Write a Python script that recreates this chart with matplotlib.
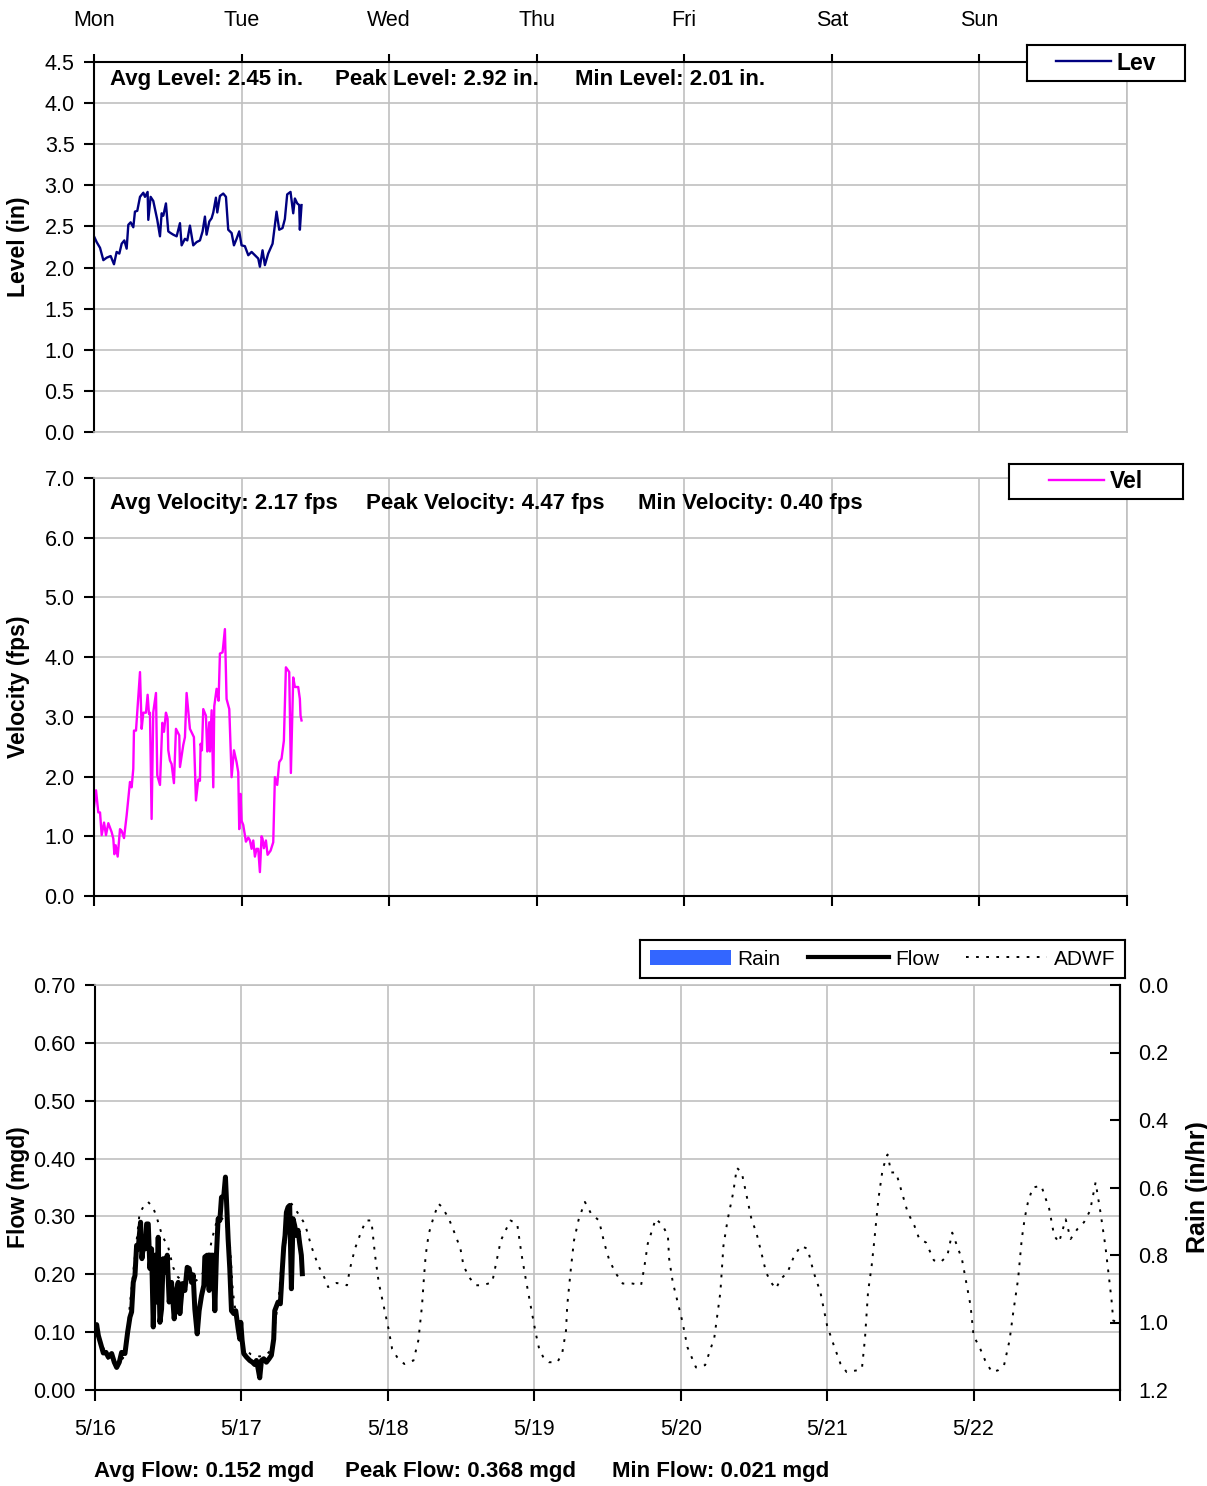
import matplotlib
matplotlib.use("Agg")
import matplotlib.pyplot as plt
from matplotlib.lines import Line2D
from matplotlib.patches import Patch
from matplotlib.ticker import FormatStrFormatter

plt.rcParams["font.family"] = ["Liberation Sans", "DejaVu Sans"]

# ---------------------------------------------------------------- data
day_names = ["Mon", "Tue", "Wed", "Thu", "Fri", "Sat", "Sun"]
date_labels = ["5/16", "5/17", "5/18", "5/19", "5/20", "5/21", "5/22"]

# hours since 5/16 00:00
level_hours = [0.00, 0.43, 0.98, 1.52, 2.06, 2.71, 3.25, 3.68, 4.12, 4.50, 4.93, 5.31,
               5.58, 5.96, 6.39, 6.66, 7.04, 7.48, 8.02, 8.29, 8.72, 8.83, 9.21, 9.64,
               10.29, 10.73, 11.00, 11.27, 11.70, 12.08, 12.46, 12.89, 13.44, 13.98, 14.25,
               14.79, 15.17, 15.60, 16.14, 16.69, 17.23, 17.66, 18.04, 18.31, 18.75, 19.13,
               19.40, 19.83, 20.05, 20.48, 21.02, 21.46, 21.83, 22.38, 22.76, 23.19, 23.62,
               24.00, 24.54, 25.09, 25.63, 26.17, 26.71, 26.98, 27.41, 27.79, 28.33, 29.04,
               29.69, 30.12, 30.66, 31.04, 31.42, 31.96, 32.40, 32.67, 33.05, 33.37, 33.48,
               33.75]
level_in = [2.38, 2.31, 2.24, 2.09, 2.12, 2.14, 2.04, 2.19, 2.17, 2.29, 2.33, 2.23,
            2.52, 2.55, 2.49, 2.68, 2.69, 2.86, 2.91, 2.86, 2.92, 2.58, 2.86, 2.81,
            2.58, 2.38, 2.66, 2.63, 2.78, 2.44, 2.42, 2.40, 2.38, 2.54, 2.27,
            2.35, 2.33, 2.51, 2.27, 2.31, 2.33, 2.44, 2.62, 2.40, 2.56, 2.60,
            2.67, 2.85, 2.67, 2.87, 2.90, 2.86, 2.46, 2.42, 2.27, 2.35, 2.44,
            2.27, 2.26, 2.15, 2.19, 2.15, 2.11, 2.01, 2.21, 2.03, 2.17, 2.29,
            2.68, 2.46, 2.48, 2.59, 2.89, 2.92, 2.66, 2.84, 2.78, 2.76, 2.46,
            2.76]

vel_hours = [0.00, 0.33, 0.70, 0.98, 1.25, 1.63, 1.95, 2.33, 2.87, 3.14, 3.31, 3.52,
             3.85, 4.23, 4.50, 4.88, 5.31, 5.85, 6.12, 6.39, 6.50, 6.83, 7.48, 7.75,
             8.02, 8.45, 8.72, 8.94, 9.10, 9.37, 9.64, 10.08, 10.29, 10.73, 11.11,
             11.38, 11.70, 11.97, 12.08, 12.35, 12.62, 13.00, 13.33, 13.87, 13.98,
             14.52, 14.79, 15.06, 15.60, 16.25, 16.58, 16.96, 17.23, 17.34, 17.55,
             17.77, 18.20, 18.42, 18.75, 18.85, 19.13, 19.40, 19.56, 19.94, 20.26,
             20.48, 20.91, 21.29, 21.56, 22.00, 22.38, 22.76, 23.19, 23.46, 23.62,
             23.84, 24.00, 24.27, 24.71, 25.09, 25.36, 25.63, 25.90, 26.17, 26.44,
             26.71, 26.98, 27.25, 27.41, 27.63, 27.96, 28.23, 28.72, 29.15, 29.42,
             29.80, 30.12, 30.50, 30.88, 31.21, 31.75, 32.02, 32.40, 32.67, 33.21,
             33.48, 33.59, 33.75]
vel_fps = [1.49, 1.77, 1.40, 1.40, 1.02, 1.23, 1.02, 1.22, 1.07, 0.96, 0.70, 0.85,
           0.66, 1.12, 1.09, 0.97, 1.35, 1.91, 1.82, 2.13, 2.77, 2.77, 3.75, 2.80,
           3.07, 3.07, 3.37, 3.05, 3.07, 1.29, 3.08, 3.40, 2.02, 1.86, 2.90,
           2.75, 3.07, 2.97, 2.44, 2.27, 2.21, 1.89, 2.80, 2.69, 2.16,
           2.53, 2.66, 3.40, 2.80, 2.66, 1.60, 1.95, 1.93, 2.55, 2.44,
           3.13, 3.02, 2.42, 2.91, 2.42, 3.11, 1.82, 3.18, 3.47, 3.27,
           4.06, 4.08, 4.47, 3.30, 3.13, 1.99, 2.44, 2.24, 2.07, 1.12,
           1.71, 1.26, 1.19, 0.91, 0.98, 0.93, 0.79, 0.93, 0.66, 0.79,
           0.79, 0.40, 1.00, 0.96, 0.80, 0.93, 0.69, 0.76, 0.90, 1.99,
           1.86, 2.24, 2.30, 2.60, 3.83, 3.75, 2.06, 3.66, 3.50, 3.50,
           3.30, 3.02, 2.94]

flow_hours = [0.00, 0.27, 0.55, 0.93, 1.36, 1.80, 2.18, 2.73, 3.16, 3.55, 3.98, 4.36,
              4.91, 5.35, 5.73, 6.00, 6.27, 6.55, 6.82, 7.09, 7.26, 7.47, 7.69, 7.91,
              8.24, 8.46, 8.73, 9.00, 9.27, 9.55, 9.82, 10.09, 10.36, 10.64, 10.91,
              11.18, 11.46, 11.84, 12.16, 12.55, 12.98, 13.36, 13.64, 13.91, 14.35,
              14.73, 15.11, 15.44, 15.82, 16.09, 16.36, 16.75, 17.07, 17.46, 17.84,
              18.00, 18.38, 18.71, 18.93, 19.37, 19.64, 19.91, 20.18, 20.46, 20.73,
              21.11, 21.38, 21.55, 21.82, 22.09, 22.37, 22.75, 23.07, 23.46, 23.73,
              23.89, 24.11, 24.38, 24.82, 25.37, 25.80, 26.18, 26.46, 26.73, 27.00,
              27.28, 27.66, 28.09, 28.53, 28.91, 29.29, 29.46, 30.00, 30.38, 30.71,
              30.93, 31.15, 31.37, 31.64, 31.91, 32.19, 32.46, 32.73, 33.00, 33.28,
              33.55, 33.82, 33.98]
flow_mgd = [0.100, 0.113, 0.094, 0.080, 0.064, 0.065, 0.057, 0.063, 0.048, 0.039, 0.048, 0.065,
            0.063, 0.100, 0.126, 0.135, 0.186, 0.198, 0.250, 0.244, 0.267, 0.290, 0.227, 0.247,
            0.244, 0.287, 0.287, 0.210, 0.244, 0.109, 0.233, 0.152, 0.264, 0.117, 0.140,
            0.227, 0.204, 0.233, 0.152, 0.186, 0.123, 0.172, 0.186, 0.132, 0.184,
            0.172, 0.212, 0.210, 0.186, 0.199, 0.140, 0.097, 0.137, 0.163, 0.181,
            0.230, 0.233, 0.172, 0.233, 0.233, 0.137, 0.235, 0.296, 0.293, 0.333,
            0.336, 0.368, 0.328, 0.261, 0.210, 0.137, 0.132, 0.137, 0.106, 0.088,
            0.117, 0.086, 0.063, 0.057, 0.051, 0.048, 0.044, 0.051, 0.037, 0.021,
            0.051, 0.054, 0.048, 0.054, 0.060, 0.088, 0.137, 0.152, 0.149, 0.210,
            0.247, 0.267, 0.307, 0.316, 0.319, 0.175, 0.296, 0.284, 0.267, 0.276,
            0.253, 0.233, 0.201]

adwf_hours = [0.0, 1.0, 2.3, 3.5, 4.6, 5.3, 5.7, 6.5, 7.3, 8.0, 8.7, 9.5, 10.1, 11.0,
              12.0, 12.8, 13.6, 15.0, 16.3, 17.3, 18.3, 19.2, 19.9, 20.6, 21.4, 22.1,
              22.6, 23.5, 24.3, 25.5, 27.0, 28.2, 28.9, 29.6, 30.2, 30.5, 31.6, 32.2,
              33.3, 34.4, 35.5, 36.6, 37.7, 38.2, 39.6, 41.3, 41.8, 42.6, 43.5, 44.4,
              45.3, 45.9, 46.5, 47.3, 48.1, 48.7, 49.5, 50.7, 52.2, 53.0, 53.6, 53.9,
              54.2, 54.7, 55.5, 56.3, 56.9, 58.0, 59.1, 59.9, 60.4, 61.3, 62.4, 63.5,
              65.1, 65.9, 66.5, 67.3, 68.1, 69.2, 69.9, 70.6, 71.4, 72.2, 72.8, 73.6,
              74.4, 75.8, 76.6, 77.2, 77.4, 78.0, 78.5, 79.3, 80.3, 81.3, 82.6, 83.5,
              84.3, 85.4, 86.5, 88.1, 89.5, 90.0, 90.6, 91.4, 91.9, 93.0, 93.9, 94.1,
              94.7, 95.5, 96.3, 97.1, 98.5, 100.0, 101.5, 102.5, 103.0, 103.7, 104.6,
              105.2, 106.0, 106.8, 107.6, 108.4, 109.2, 110.0, 110.8, 111.6, 112.4,
              113.5, 114.6, 115.7, 116.8, 117.8, 118.9, 120.0, 121.1, 122.2, 123.2,
              124.9, 125.7, 126.2, 126.7, 127.3, 127.7, 128.4, 129.1, 129.9, 130.5,
              131.3, 132.1, 133.2, 134.3, 135.1, 136.2, 137.5, 138.6, 139.7, 140.5,
              141.3, 142.1, 142.7, 143.5, 144.0, 145.1, 145.9, 147.0, 148.0, 149.0,
              149.9, 150.5, 151.3, 151.9, 152.4, 152.9, 153.7, 155.1, 156.4, 157.2,
              158.0, 159.1, 159.9, 161.0, 162.1, 163.1, 164.0, 164.8, 165.6, 166.1,
              166.6, 166.9, 167.3]
adwf_mgd = [0.105, 0.082, 0.050, 0.044, 0.055, 0.095, 0.146, 0.227, 0.305, 0.318, 0.325, 0.316,
            0.299, 0.267, 0.247, 0.212, 0.195, 0.185, 0.187, 0.195, 0.215, 0.262, 0.290,
            0.298, 0.292, 0.253, 0.170, 0.098, 0.074, 0.062, 0.058, 0.062, 0.070, 0.120,
            0.169, 0.210, 0.281, 0.322,
            0.305, 0.287, 0.247, 0.215, 0.192, 0.178, 0.185, 0.181, 0.210, 0.244, 0.270,
            0.293, 0.293, 0.233, 0.186, 0.146, 0.106, 0.071, 0.057, 0.045, 0.051, 0.086,
            0.146, 0.192, 0.233, 0.270, 0.299, 0.322, 0.316, 0.296, 0.267, 0.244, 0.215,
            0.195, 0.181, 0.181, 0.186, 0.227, 0.258, 0.276, 0.293, 0.287, 0.235, 0.192,
            0.146, 0.100, 0.071, 0.054, 0.048, 0.048, 0.065, 0.103, 0.146, 0.210, 0.258,
            0.296, 0.325, 0.305, 0.293, 0.253, 0.224, 0.201, 0.184, 0.184, 0.181, 0.210,
            0.253, 0.279, 0.296, 0.285, 0.267, 0.227, 0.186, 0.152, 0.117, 0.074, 0.039,
            0.043, 0.090, 0.169, 0.249, 0.295, 0.341, 0.384, 0.376, 0.336, 0.295, 0.272,
            0.238, 0.203, 0.186, 0.175, 0.192, 0.203, 0.232, 0.249, 0.244, 0.203, 0.169,
            0.111, 0.077, 0.045, 0.031, 0.034, 0.037, 0.089, 0.169, 0.215, 0.255, 0.330,
            0.382, 0.407, 0.376, 0.376, 0.347, 0.307, 0.284, 0.261, 0.255, 0.224, 0.221,
            0.232, 0.272, 0.249, 0.226, 0.192, 0.146, 0.094, 0.071, 0.051, 0.031, 0.034,
            0.043, 0.086, 0.134, 0.192, 0.261, 0.298, 0.324, 0.350, 0.353, 0.313, 0.267,
            0.255, 0.295, 0.261, 0.278, 0.290, 0.310, 0.359, 0.307, 0.249, 0.203, 0.157,
            0.120, 0.118]

# no rain recorded during the week (daily samples, in/hr)
rain_hours = [0, 24, 48, 72, 96, 120, 144]
rain_in_hr = [0.0, 0.0, 0.0, 0.0, 0.0, 0.0, 0.0]

day_ticks = [0, 24, 48, 72, 96, 120, 144, 168]
level_ticks = [0.0, 0.5, 1.0, 1.5, 2.0, 2.5, 3.0, 3.5, 4.0, 4.5]
vel_ticks = [0.0, 1.0, 2.0, 3.0, 4.0, 5.0, 6.0, 7.0]
flow_ticks = [0.0, 0.1, 0.2, 0.3, 0.4, 0.5, 0.6, 0.7]
rain_ticks = [0.0, 0.2, 0.4, 0.6, 0.8, 1.0, 1.2]

level_stats = ["Avg Level: 2.45 in.", "Peak Level: 2.92 in.", "Min Level: 2.01 in."]
vel_stats = ["Avg Velocity: 2.17 fps", "Peak Velocity: 4.47 fps", "Min Velocity: 0.40 fps"]
flow_stats = ["Avg Flow: 0.152 mgd", "Peak Flow: 0.368 mgd", "Min Flow: 0.021 mgd"]

# ---------------------------------------------------------------- styling
W, H, DPI = 1207, 1486, 100
GRID = "#c0c0c0"
LEVEL_C = "#000080"
VEL_C = "#ff00ff"
RAIN_C = "#3366ff"
TICK_FS = 15.5
STAT_FS = 16
LABEL_FS = 16.5

fig = plt.figure(figsize=(W / DPI, H / DPI), dpi=DPI)


def px_axes(left, top, right, bottom, **kw):
    return fig.add_axes([left / W, 1 - bottom / H, (right - left) / W, (bottom - top) / H], **kw)


def style_frame(ax, black, grey):
    for s in black:
        ax.spines[s].set_color("black")
        ax.spines[s].set_linewidth(1.5)
    for s in grey:
        ax.spines[s].set_color(GRID)
        ax.spines[s].set_linewidth(1.2)
    ax.grid(True, color=GRID, lw=1.2)
    ax.set_axisbelow(True)
    ax.tick_params(axis="y", direction="out", length=7, width=1.5, pad=7,
                   labelsize=TICK_FS)


def stats_row(ax, texts, xs, y):
    for t, x in zip(texts, xs):
        ax.text(x, y, t, transform=ax.transAxes, ha="left", va="center",
                fontsize=STAT_FS, fontweight="bold", clip_on=False)


def legend_box(left, top, right, bottom, handles, labels, **kw):
    lax = px_axes(left, top, right, bottom, zorder=10)
    lax.set_xticks([])
    lax.set_yticks([])
    for s in lax.spines.values():
        s.set_color("black")
        s.set_linewidth(1.5)
    lax.set_facecolor("white")
    lax.legend(handles, labels, loc="center", frameon=False, borderaxespad=0,
               borderpad=0, **kw)
    return lax


# ---------------------------------------------------------------- level
ax1 = px_axes(94, 62, 1127, 432)
ax1.plot(level_hours, level_in, color=LEVEL_C, lw=1.7)
ax1.set_xlim(0, 168)
ax1.set_ylim(0, 4.5)
ax1.set_yticks(level_ticks)
ax1.yaxis.set_major_formatter(FormatStrFormatter("%.1f"))
ax1.set_xticks(day_ticks)
ax1.set_xticklabels(day_names + [""])
style_frame(ax1, black=["top", "left"], grey=["bottom", "right"])
ax1.tick_params(axis="x", top=True, bottom=False, labeltop=True, labelbottom=False,
                direction="out", length=6, width=1.5, pad=16.5, labelsize=TICK_FS)
ax1.set_ylabel("Level (in)", fontsize=LABEL_FS, fontweight="bold")
ax1.yaxis.set_label_coords(-0.062, 0.5)
stats_row(ax1, level_stats, [0.0155, 0.2333, 0.4656], 0.952)
legend_box(1027, 45, 1185, 81, [Line2D([], [], color=LEVEL_C, lw=1.7)], ["Lev"],
           prop={"size": 16.5, "weight": "bold"}, handlelength=2.4, handletextpad=0.25)

# ---------------------------------------------------------------- velocity
ax2 = px_axes(94, 478, 1127, 896)
ax2.plot(vel_hours, vel_fps, color=VEL_C, lw=1.7)
ax2.set_xlim(0, 168)
ax2.set_ylim(0, 7)
ax2.set_yticks(vel_ticks)
ax2.yaxis.set_major_formatter(FormatStrFormatter("%.1f"))
ax2.set_xticks(day_ticks)
ax2.set_xticklabels([])
style_frame(ax2, black=["left", "bottom"], grey=["top", "right"])
ax2.tick_params(axis="x", direction="out", length=7, width=1.5)
ax2.set_ylabel("Velocity (fps)", fontsize=LABEL_FS, fontweight="bold")
ax2.yaxis.set_label_coords(-0.062, 0.5)
stats_row(ax2, vel_stats, [0.0155, 0.2633, 0.5266], 0.938)
legend_box(1009, 464, 1183, 499, [Line2D([], [], color=VEL_C, lw=1.7)], ["Vel"],
           prop={"size": 16.5, "weight": "bold"}, handlelength=2.4, handletextpad=0.25)

# ---------------------------------------------------------------- flow / rain
ax3 = px_axes(95, 985, 1120, 1390)
ax3.plot(adwf_hours, adwf_mgd, color="black", lw=1.4, linestyle=(0, (1.4, 3.8)))
ax3.plot(flow_hours, flow_mgd, color="black", lw=3.6)
ax3.set_xlim(0, 168)
ax3.set_ylim(0, 0.7)
ax3.set_yticks(flow_ticks)
ax3.yaxis.set_major_formatter(FormatStrFormatter("%.2f"))
ax3.set_xticks(day_ticks)
ax3.set_xticklabels(date_labels + [""])
style_frame(ax3, black=["left", "bottom", "right"], grey=["top"])
ax3.tick_params(axis="x", direction="out", length=8, width=1.5, pad=13,
                labelsize=TICK_FS)
ax3.set_ylabel("Flow (mgd)", fontsize=LABEL_FS, fontweight="bold")
ax3.yaxis.set_label_coords(-0.063, 0.5)
stats_row(ax3, flow_stats, [-0.001, 0.2439, 0.5044], -0.200)

ax3r = ax3.twinx()
ax3r.bar(rain_hours, rain_in_hr, width=1.0, color=RAIN_C, align="edge")
ax3r.set_ylim(1.2, 0.0)
ax3r.set_yticks(rain_ticks)
ax3r.yaxis.set_major_formatter(FormatStrFormatter("%.1f"))
for s in ["top", "bottom", "left"]:
    ax3r.spines[s].set_visible(False)
ax3r.spines["right"].set_color("black")
ax3r.spines["right"].set_linewidth(1.5)
ax3r.tick_params(axis="y", direction="in", length=7, width=1.5, pad=13,
                 labelsize=TICK_FS)
ax3r.set_ylabel("Rain (in/hr)", fontsize=18, fontweight="bold")
ax3r.yaxis.set_label_coords(1.064, 0.5)

legend_box(640, 940, 1125, 978,
           [Patch(facecolor=RAIN_C, edgecolor="none"),
            Line2D([], [], color="black", lw=3),
            Line2D([], [], color="black", lw=1.4, linestyle=(0, (1.4, 3.8)))],
           ["Rain", "Flow", "ADWF"], ncol=3, fontsize=15, handlelength=3.9,
           handleheight=0.75, handletextpad=0.3, columnspacing=1.3)

fig.savefig("out.png", dpi=DPI)
